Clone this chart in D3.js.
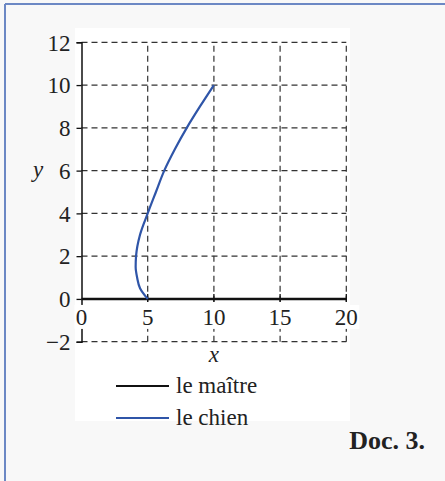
<!DOCTYPE html>
<html>
<head>
<meta charset="utf-8">
<script src="https://cdn.jsdelivr.net/npm/d3@7"></script>
<style>
  html, body { margin: 0; padding: 0; background: #f8f8f8; }
  svg { display: block; }
  text { font-family: "Liberation Serif", "Times New Roman", serif; fill: #222; }
</style>
</head>
<body>
<svg id="chart" width="445" height="481"></svg>
<script>
// Axis ticks
const xTicks = [0, 5, 10, 15, 20];
const yTicks = [-2, 0, 2, 4, 6, 8, 10, 12];

// Path of the master: straight along the x axis
const maitreX = [0, 20];
const maitreY = [0, 0];

// Path of the dog
const chienY = [0, 0.5, 1, 1.5, 2, 3, 4, 5, 6, 7, 8, 9, 10];
const chienX = [5, 4.42, 4.2, 4.09, 4.12, 4.42, 5.0, 5.62, 6.25, 7.05, 7.95, 8.95, 10];

const legendLabels = ["le maître", "le chien"];
const legendColors = ["#111", "#2f55a8"];

const FS = "23px";
const svg = d3.select("#chart");

// framing border (top and left edges visible)
svg.append("line").attr("x1", 5).attr("x2", 445).attr("y1", 4).attr("y2", 4)
  .attr("stroke", "#6c88c4").attr("stroke-width", 2);
svg.append("line").attr("x1", 5).attr("x2", 5).attr("y1", 4).attr("y2", 481)
  .attr("stroke", "#6c88c4").attr("stroke-width", 2);

// white panel behind the graph
svg.append("rect").attr("x", 75).attr("y", 28).attr("width", 275).attr("height", 393)
  .attr("fill", "#ffffff");

const x = d3.scaleLinear().domain([0, 20]).range([81.5, 346.3]);
const y = d3.scaleLinear().domain([-2, 12]).range([341.7, 42.3]);

const dash = "6,4";
const gridColor = "#333";

// vertical dashed grid
svg.append("g").selectAll("line").data(xTicks.filter(d => d > 0)).join("line")
  .attr("x1", d => x(d)).attr("x2", d => x(d))
  .attr("y1", y(-2)).attr("y2", y(12))
  .attr("stroke", gridColor).attr("stroke-width", 1.2).attr("stroke-dasharray", dash);

// horizontal dashed grid
svg.append("g").selectAll("line").data(yTicks.filter(d => d !== 0)).join("line")
  .attr("x1", x(0)).attr("x2", x(20))
  .attr("y1", d => y(d)).attr("y2", d => y(d))
  .attr("stroke", gridColor).attr("stroke-width", 1.2).attr("stroke-dasharray", dash);

// y axis
const yAxis = d3.axisLeft(y).tickValues(yTicks).tickSize(5).tickPadding(6)
  .tickFormat(d => d < 0 ? "\u2212" + Math.abs(d) : d);
const gy = svg.append("g").attr("transform", `translate(${x(0)},0)`).call(yAxis)
  .attr("font-family", null).attr("font-size", null);
gy.select(".domain").attr("stroke", "#111").attr("stroke-width", 1.5);
gy.selectAll(".tick line").attr("stroke", "#111").attr("stroke-width", 1.3);
gy.selectAll(".tick text").style("font-size", FS).attr("fill", "#222").attr("dy", "0.34em");

// x tick labels below the zero line, on white boxes
const xl = svg.append("g").selectAll("g").data(xTicks).join("g")
  .attr("transform", d => `translate(${x(d)},${y(0)})`);
xl.append("rect").attr("x", d => d >= 10 ? -13 : -7).attr("y", 6)
  .attr("width", d => d >= 10 ? 26 : 14).attr("height", 24).attr("fill", "#fff");
xl.append("text").attr("y", 26).attr("text-anchor", "middle")
  .style("font-size", FS).text(d => d);
xl.filter(d => d > 0).append("line").attr("y1", -5).attr("y2", 3)
  .attr("stroke", "#111").attr("stroke-width", 1.3);

const line = d3.line().x(d => x(d[0])).y(d => y(d[1]));

// master path
svg.append("path").datum(d3.zip(maitreX, maitreY))
  .attr("d", line).attr("fill", "none").attr("stroke", legendColors[0]).attr("stroke-width", 2.6);

// dog path
svg.append("path").datum(d3.zip(chienX, chienY))
  .attr("d", line.curve(d3.curveMonotoneY))
  .attr("fill", "none").attr("stroke", legendColors[1]).attr("stroke-width", 2.2);

// axis titles
svg.append("text").attr("x", x(10)).attr("y", 362).attr("text-anchor", "middle")
  .style("font-size", FS).style("font-style", "italic").text("x");
svg.append("text").attr("x", 38).attr("y", 177).attr("text-anchor", "middle")
  .style("font-size", FS).style("font-style", "italic").text("y");

// legend
const lg = svg.append("g").selectAll("g").data(legendLabels).join("g")
  .attr("transform", (d, i) => `translate(116,${386 + i * 32})`);
lg.append("line").attr("x1", 0).attr("x2", 53).attr("y1", 0).attr("y2", 0)
  .attr("stroke", (d, i) => legendColors[i]).attr("stroke-width", 2.2);
lg.append("text").attr("x", 60).attr("y", 0).attr("dy", "0.3em")
  .style("font-size", FS).text(d => d);

// caption
svg.append("text").attr("x", 425).attr("y", 449).attr("text-anchor", "end")
  .style("font-size", "26px").style("font-weight", "bold").attr("fill", "#111").text("Doc. 3.");
</script>
</body>
</html>
